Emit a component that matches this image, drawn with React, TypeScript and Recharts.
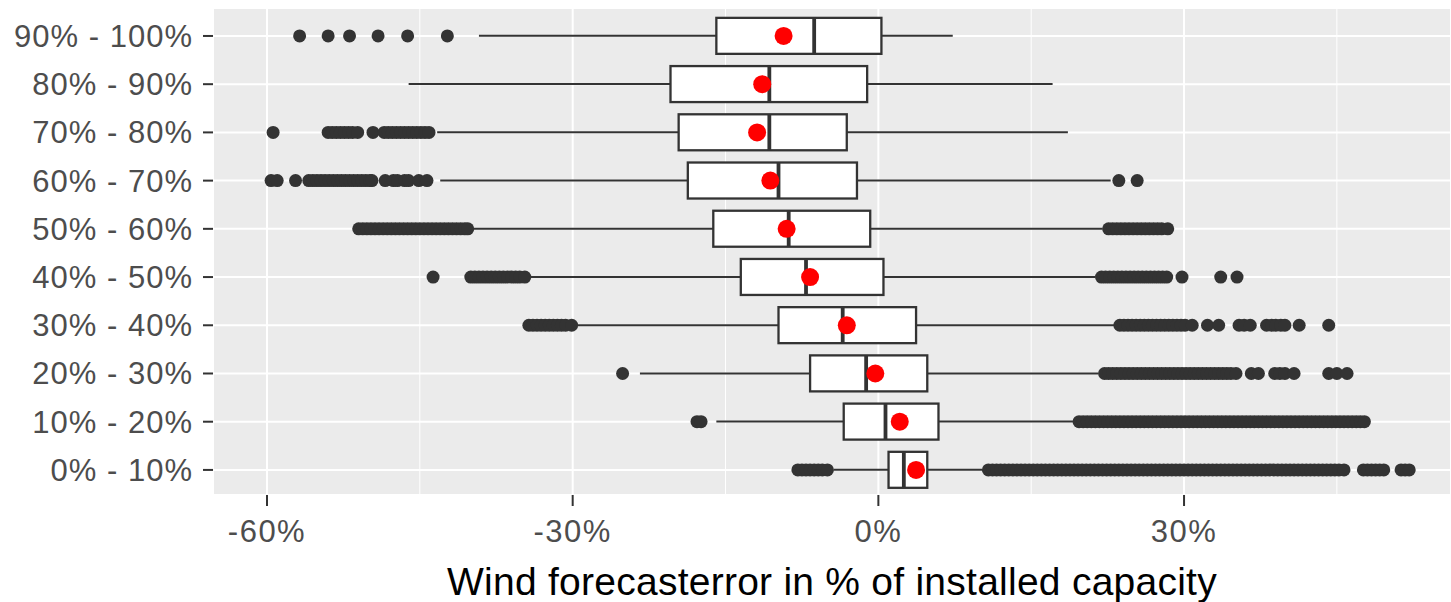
import { ComposedChart, Bar, Scatter, XAxis, YAxis, CartesianGrid } from "recharts";

// top to bottom, as in the picture
const categories = [
  "90% - 100%",
  "80% - 90%",
  "70% - 80%",
  "60% - 70%",
  "50% - 60%",
  "40% - 50%",
  "30% - 40%",
  "20% - 30%",
  "10% - 20%",
  "0% - 10%",
];

const whiskerLow = [-39.2, -46.1, -43.3, -43.0, -39.8, -34.2, -29.5, -23.4, -15.9, -4.4];
const q1 = [-15.9, -20.4, -19.6, -18.7, -16.2, -13.5, -9.8, -6.7, -3.4, 1.0];
const median = [-6.3, -10.7, -10.7, -9.8, -8.8, -7.1, -3.5, -1.2, 0.7, 2.5];
const q3 = [0.3, -1.1, -3.1, -2.1, -0.8, 0.5, 3.7, 4.8, 5.9, 4.8];
const whiskerHigh = [7.3, 17.1, 18.6, 22.8, 22.0, 21.3, 23.2, 21.6, 19.1, 10.2];
const mean = [-9.3, -11.4, -11.9, -10.6, -9.0, -6.7, -3.1, -0.3, 2.1, 3.7];

// outliers per category (dense runs)
const out90 = [-56.8, -54.0, -51.9, -49.1, -46.2, -42.3];
const out80: number[] = [];
const out70 = [
  -59.4,
  -54.0, -53.6, -53.2, -52.8, -52.4, -52.0, -51.6, -51.1,
  -49.6, -48.5, -48.1, -47.7, -47.3, -46.9, -46.5, -46.1, -45.7, -45.3, -44.9, -44.5, -44.1,
];
const out60 = [
  -59.6, -59.0, -57.2,
  -55.9, -55.5, -55.1, -54.7, -54.3, -53.9, -53.5, -53.1, -52.7, -52.3, -51.9, -51.5, -51.1, -50.7, -50.3,
  -49.9, -49.7, -48.4, -47.6, -47.2, -46.5, -46.1, -45.1, -44.3,
  23.6, 25.4,
];
const out50 = [
  -51.0, -50.6, -50.2, -49.8, -49.4, -49.0, -48.6, -48.2, -47.8, -47.4, -47.0, -46.6, -46.2, -45.8, -45.4,
  -45.0, -44.6, -44.2, -43.8, -43.4, -43.0, -42.6, -42.2, -41.8, -41.4, -41.0, -40.6, -40.3,
  22.6, 23.0, 23.4, 23.8, 24.2, 24.6, 25.0, 25.4, 25.8, 26.2, 26.6, 27.0, 27.4, 27.8, 28.4,
];
const out40 = [
  -43.7,
  -40.0, -39.6, -39.2, -38.8, -38.4, -38.0, -37.6, -37.2, -36.8, -36.4, -36.0, -35.6, -35.2, -34.7,
  21.9, 22.3, 22.7, 23.1, 23.5, 23.9, 24.3, 24.7, 25.1, 25.5, 25.9, 26.3, 26.7, 27.1, 27.5, 27.9, 28.3,
  29.8, 33.6, 35.2,
];
const out30 = [
  -34.3, -33.9, -33.5, -33.1, -32.7, -32.3, -31.9, -31.5, -31.1, -30.7, -30.1,
  23.7, 24.1, 24.5, 24.9, 25.3, 25.7, 26.1, 26.5, 26.9, 27.3, 27.7, 28.1, 28.5, 28.9, 29.3, 29.7, 30.1, 30.8,
  32.3, 33.4, 35.4, 35.9, 36.5, 38.1, 38.6, 39.0, 39.5, 39.9, 41.3, 44.2,
];
const out20 = [
  -25.1,
  22.2, 22.6, 23.0, 23.4, 23.8, 24.2, 24.6, 25.0, 25.4, 25.8, 26.2, 26.6, 27.0, 27.4, 27.8, 28.2, 28.6,
  29.0, 29.4, 29.8, 30.2, 30.6, 31.0, 31.4, 31.8, 32.2, 32.6, 33.0, 33.4, 33.8, 34.2, 34.6, 35.1,
  36.6, 37.3, 38.9, 39.4, 39.9, 40.8, 44.2, 45.0, 46.0,
];
const out10 = [
  -17.8, -17.4,
  19.7, 20.1, 20.5, 20.9, 21.3, 21.7, 22.1, 22.5, 22.9, 23.3, 23.7, 24.1, 24.5, 24.9, 25.3, 25.7, 26.1,
  26.5, 26.9, 27.3, 27.7, 28.1, 28.5, 28.9, 29.3, 29.7, 30.1, 30.5, 30.9, 31.3, 31.7, 32.1, 32.5, 32.9,
  33.3, 33.7, 34.1, 34.5, 34.9, 35.3, 35.7, 36.1, 36.5, 36.9, 37.3, 37.7, 38.1, 38.5, 38.9, 39.3, 39.7,
  40.1, 40.5, 40.9, 41.3, 41.7, 42.1, 42.5, 42.9, 43.3, 43.7, 44.1, 44.5, 44.9, 45.3, 45.7, 46.1, 46.5,
  46.9, 47.3, 47.7,
];
const out0 = [
  -7.9, -7.5, -7.1, -6.7, -6.3, -5.9, -5.5, -5.0,
  10.8, 11.2, 11.6, 12.0, 12.4, 12.8, 13.2, 13.6, 14.0, 14.4, 14.8, 15.2, 15.6, 16.0, 16.4, 16.8, 17.2,
  17.6, 18.0, 18.4, 18.8, 19.2, 19.6, 20.0, 20.4, 20.8, 21.2, 21.6, 22.0, 22.4, 22.8, 23.2, 23.6, 24.0,
  24.4, 24.8, 25.2, 25.6, 26.0, 26.4, 26.8, 27.2, 27.6, 28.0, 28.4, 28.8, 29.2, 29.6, 30.0, 30.4, 30.8,
  31.2, 31.6, 32.0, 32.4, 32.8, 33.2, 33.6, 34.0, 34.4, 34.8, 35.2, 35.6, 36.0, 36.4, 36.8, 37.2, 37.6,
  38.0, 38.4, 38.8, 39.2, 39.6, 40.0, 40.4, 40.8, 41.2, 41.6, 42.0, 42.4, 42.8, 43.2, 43.6, 44.0, 44.4,
  44.8, 45.2, 45.7,
  47.6, 48.0, 48.4, 48.8, 49.2, 49.6,
  51.3, 51.7, 52.1,
];
const outlierLists = [out90, out80, out70, out60, out50, out40, out30, out20, out10, out0];

const xTicks = [-60, -30, 0, 30];
const xMinorTicks = [-45, -15, 15, 45];
const xDomain = [-65.3, 56.2];

const rows = categories.map((cat, i) => ({
  pos: i,
  cat,
  whisker: [whiskerLow[i], whiskerHigh[i]],
  box: [q1[i], q3[i]],
  med: median[i],
  mean: mean[i],
}));

const outlierPoints = outlierLists.flatMap((list, i) => list.map((v) => ({ pos: i, v })));

const BOX_H = 36;
const DARK = "#333333";

const WhiskerShape = (props: any) => {
  const { x, y, width, height } = props;
  const cy = y + height / 2;
  return <line x1={x} x2={x + width} y1={cy} y2={cy} stroke={DARK} strokeWidth={2} />;
};

const BoxShape = (props: any) => {
  const { x, y, width, height } = props;
  return <rect x={x} y={y} width={width} height={height} fill="#fff" stroke={DARK} strokeWidth={2.3} />;
};

const MedianShape = (props: any) => {
  const { cx, cy } = props;
  return <line x1={cx} x2={cx} y1={cy - BOX_H / 2} y2={cy + BOX_H / 2} stroke={DARK} strokeWidth={3.8} />;
};

const OutlierShape = (props: any) => <circle cx={props.cx} cy={props.cy} r={6.5} fill={DARK} />;
const MeanShape = (props: any) => <circle cx={props.cx} cy={props.cy} r={9} fill="#FF0000" />;

export default function App() {
  return (
    <div
      style={{
        position: "absolute",
        left: 0,
        top: 0,
        width: 1451,
        height: 602,
        background: "#fff",
        fontFamily: "'Liberation Sans', Arial, sans-serif",
      }}
    >
      <ComposedChart
        width={1451}
        height={602}
        data={rows}
        layout="vertical"
        margin={{ top: 8, right: 0, bottom: 0, left: 0 }}
        barGap={-BOX_H}
      >
        {/* panel + major grid */}
        <CartesianGrid fill="#EBEBEB" stroke="#fff" strokeWidth={2} />
        {/* minor vertical grid */}
        <CartesianGrid xAxisId="minor" horizontal={false} stroke="#fff" strokeWidth={1} />

        <XAxis
          type="number"
          domain={xDomain}
          ticks={xTicks}
          allowDataOverflow
          height={107}
          tickSize={11}
          tickMargin={14}
          axisLine={false}
          tickLine={{ stroke: DARK, strokeWidth: 2 }}
          tick={{ fill: "#4D4D4D", fontSize: 31, letterSpacing: 1.5 }}
          tickFormatter={(v) => `${v}%`}
          label={{
            value: "Wind forecasterror in % of installed capacity",
            position: "insideBottom",
            offset: 7,
            fontSize: 39,
            letterSpacing: 0.25,
            fill: "#000",
          }}
        />
        <XAxis xAxisId="minor" type="number" domain={xDomain} ticks={xMinorTicks} allowDataOverflow hide />
        <YAxis
          type="number"
          dataKey="pos"
          domain={[-0.58, 9.52]}
          ticks={categories.map((_, i) => i)}
          allowDataOverflow
          width={213}
          tickSize={10}
          tickMargin={10}
          axisLine={false}
          tickLine={{ stroke: DARK, strokeWidth: 2 }}
          tick={{ fill: "#4D4D4D", fontSize: 31, letterSpacing: 1 }}
          tickFormatter={(i) => categories[i]}
        />

        <Bar dataKey="whisker" barSize={BOX_H} shape={WhiskerShape} isAnimationActive={false} />
        <Bar dataKey="box" barSize={BOX_H} shape={BoxShape} isAnimationActive={false} />
        <Scatter dataKey="med" shape={MedianShape} isAnimationActive={false} />
        <Scatter data={outlierPoints} dataKey="v" shape={OutlierShape} isAnimationActive={false} />
        <Scatter dataKey="mean" shape={MeanShape} isAnimationActive={false} />
      </ComposedChart>
    </div>
  );
}
